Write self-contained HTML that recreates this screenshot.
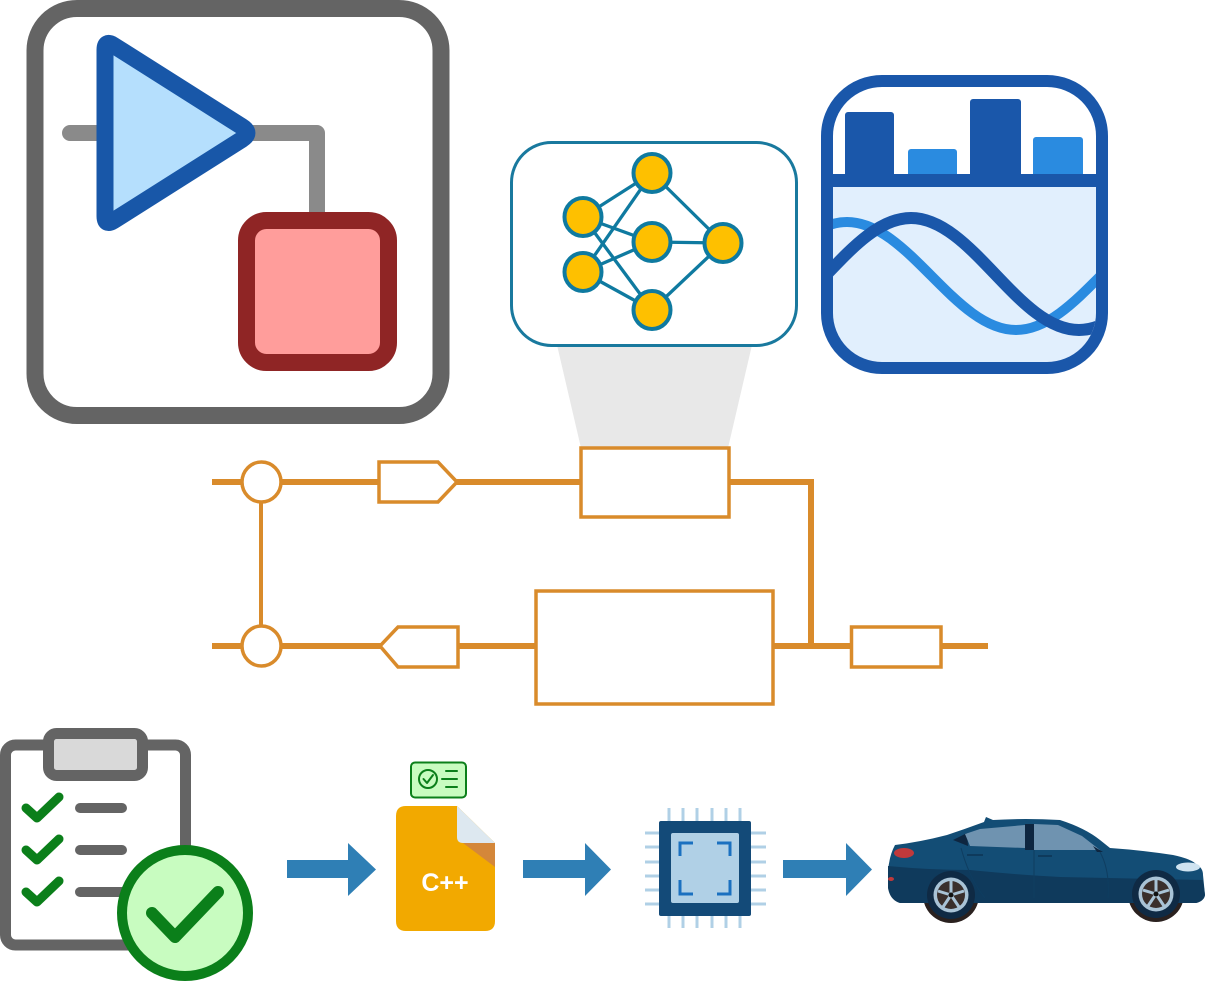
<!DOCTYPE html>
<html>
<head>
<meta charset="utf-8">
<style>
  html,body{margin:0;padding:0;background:#fff;}
  svg{display:block;}
</style>
</head>
<body>
<svg width="1228" height="983" viewBox="0 0 1228 983" xmlns="http://www.w3.org/2000/svg">
  <defs>
    <clipPath id="chartClip">
      <rect x="833" y="87" width="263" height="275" rx="49"/>
    </clipPath>
  </defs>

  <!-- ===== Top-left model icon ===== -->
  <rect x="35" y="8.5" width="406" height="407" rx="42" fill="#fff" stroke="#646464" stroke-width="17"/>
  <polyline points="70,133 317,133 317,222" fill="none" stroke="#8a8a8a" stroke-width="16" stroke-linecap="round" stroke-linejoin="round"/>
  <path d="M105,50 Q105,40 113.5,45.3 L241.9,126.6 Q252,133 241.9,139.4 L113.5,220.7 Q105,226 105,216 Z" fill="#b5dffd" stroke="#1857a8" stroke-width="17" stroke-linejoin="round"/>
  <rect x="246.5" y="220.5" width="142" height="142" rx="20" fill="#ff9d9b" stroke="#8f2525" stroke-width="17"/>

  <!-- ===== Gray projection trapezoid ===== -->
  <polygon points="557,345 752,345 728,448 581,448" fill="#e8e8e8"/>

  <!-- ===== Neural network box ===== -->
  <rect x="511.5" y="142.5" width="285" height="203" rx="40" fill="#fff" stroke="#19799e" stroke-width="3"/>
  <g stroke="#0f7aa0" stroke-width="3.3">
    <line x1="583" y1="217" x2="652" y2="173"/>
    <line x1="583" y1="217" x2="652" y2="242"/>
    <line x1="583" y1="217" x2="652" y2="310"/>
    <line x1="583" y1="272" x2="652" y2="173"/>
    <line x1="583" y1="272" x2="652" y2="242"/>
    <line x1="583" y1="272" x2="652" y2="310"/>
    <line x1="652" y1="173" x2="723" y2="243"/>
    <line x1="652" y1="242" x2="723" y2="243"/>
    <line x1="652" y1="310" x2="723" y2="243"/>
  </g>
  <g fill="#fec000" stroke="#0f7aa0" stroke-width="4">
    <ellipse cx="652" cy="173" rx="18.5" ry="19"/>
    <ellipse cx="583" cy="217" rx="18.5" ry="19"/>
    <ellipse cx="652" cy="242" rx="18.5" ry="19"/>
    <ellipse cx="723" cy="243" rx="18.5" ry="19"/>
    <ellipse cx="583" cy="272" rx="18.5" ry="19"/>
    <ellipse cx="652" cy="310" rx="18.5" ry="19"/>
  </g>

  <!-- ===== Chart / wave box ===== -->
  <rect x="827" y="81" width="275" height="287" rx="55" fill="#fff"/>
  <g clip-path="url(#chartClip)">
    <rect x="833" y="186" width="263" height="180" fill="#e1effd"/>
    <path d="M678,330 C739.5,330 785.5,222 847,222 C908.5,222 954.5,330 1016,330 C1077.5,330 1123.5,222 1185,222" fill="none" stroke="#2a8be0" stroke-width="10"/>
    <path d="M743,330 C804.2,330 849.8,218 911,218 C972.2,218 1017.8,330 1079,330 C1140.2,330 1185.8,218 1247,218" fill="none" stroke="#1a57aa" stroke-width="12"/>
  </g>
  <rect x="845" y="112" width="49" height="70" rx="3" fill="#1a57aa"/>
  <rect x="908" y="149" width="49" height="33" rx="3" fill="#2a8be0"/>
  <rect x="970" y="99" width="51" height="83" rx="3" fill="#1a57aa"/>
  <rect x="1033" y="137" width="50" height="45" rx="3" fill="#2a8be0"/>
  <line x1="821" y1="180.5" x2="1108" y2="180.5" stroke="#1a57aa" stroke-width="13"/>
  <rect x="827" y="81" width="275" height="287" rx="55" fill="none" stroke="#1a57aa" stroke-width="12"/>

  <!-- ===== Orange circuit ===== -->
  <g fill="none" stroke="#d98b2b">
    <g stroke-width="6">
      <line x1="212" y1="482" x2="242" y2="482"/>
      <line x1="281" y1="482" x2="379" y2="482"/>
      <line x1="456" y1="482" x2="581" y2="482"/>
      <polyline points="729,482 811,482 811,647"/>
      <line x1="212" y1="646" x2="242" y2="646"/>
      <line x1="281" y1="646" x2="381" y2="646"/>
      <line x1="458" y1="646" x2="536" y2="646"/>
      <line x1="773" y1="646" x2="851" y2="646"/>
      <line x1="941" y1="646" x2="988" y2="646"/>
    </g>
    <line x1="261" y1="501" x2="261" y2="627" stroke-width="4"/>
    <g stroke-width="3.5" fill="#fff">
      <ellipse cx="261.5" cy="482" rx="19.5" ry="20"/>
      <ellipse cx="261.5" cy="646" rx="19.5" ry="20"/>
      <polygon points="379,462 438,462 457,482 438,502 379,502"/>
      <rect x="581" y="448" width="148" height="69"/>
      <polygon points="380,646 398,627 458,627 458,667 398,667"/>
      <rect x="536" y="591" width="237" height="113"/>
      <rect x="851.5" y="627" width="89.5" height="40"/>
    </g>
  </g>

  <!-- ===== Clipboard ===== -->
  <rect x="5.5" y="745" width="180" height="200" rx="10" fill="#fff" stroke="#646464" stroke-width="11"/>
  <rect x="48.5" y="733.5" width="94" height="42" rx="8" fill="#d9d9d9" stroke="#646464" stroke-width="11"/>
  <g fill="none" stroke="#0b7f1a" stroke-width="9" stroke-linecap="round" stroke-linejoin="round">
    <polyline points="26,808 37,818 59,797"/>
    <polyline points="26,850 37,860 59,839"/>
    <polyline points="26,892 37,902 59,881"/>
  </g>
  <g stroke="#646464" stroke-width="10" stroke-linecap="round">
    <line x1="80" y1="808" x2="122" y2="808"/>
    <line x1="80" y1="850" x2="122" y2="850"/>
    <line x1="80" y1="892" x2="122" y2="892"/>
  </g>
  <circle cx="185" cy="913" r="63" fill="#c8fcc0" stroke="#0b7f1a" stroke-width="10"/>
  <polyline points="152,913 175,937 218,892" fill="none" stroke="#0b7f1a" stroke-width="12" stroke-linecap="round" stroke-linejoin="round"/>

  <!-- ===== Arrows ===== -->
  <g fill="#2f7fb5">
    <polygon points="287,860 348,860 348,843 376,869.5 348,896 348,878 287,878"/>
    <polygon points="523,860 585,860 585,843 611,869.5 585,896 585,878 523,878"/>
    <polygon points="783,860 846,860 846,843 872,869.5 846,896 846,878 783,878"/>
  </g>

  <!-- ===== C++ file ===== -->
  <rect x="411" y="762.5" width="55" height="35" rx="4" fill="#c8fcc0" stroke="#0b7f1a" stroke-width="2"/>
  <circle cx="428" cy="779" r="9" fill="none" stroke="#0b7f1a" stroke-width="2"/>
  <polyline points="423.5,779 427,783 433,775" fill="none" stroke="#0b7f1a" stroke-width="2" stroke-linecap="round" stroke-linejoin="round"/>
  <g stroke="#0b7f1a" stroke-width="2" stroke-linecap="round">
    <line x1="446" y1="771" x2="457" y2="771"/>
    <line x1="442" y1="779" x2="457" y2="779"/>
    <line x1="446" y1="787" x2="457" y2="787"/>
  </g>
  <path d="M406,806 L457,806 L495,843 L495,921 Q495,931 485,931 L406,931 Q396,931 396,921 L396,816 Q396,806 406,806 Z" fill="#f2a900"/>
  <path d="M457,806 L495,843 L463,843 Q457,843 457,837 Z" fill="#dde8f0"/>
  <polygon points="463,843 495,843 495,867" fill="#d4873a"/>
  <text x="445" y="891" text-anchor="middle" font-family="'Liberation Sans', sans-serif" font-weight="bold" font-size="25" fill="#fff">C++</text>

  <!-- ===== Chip ===== -->
  <g stroke="#b0d0e6" stroke-width="3">
    <line x1="669" y1="808" x2="669" y2="928"/>
    <line x1="683" y1="808" x2="683" y2="928"/>
    <line x1="697" y1="808" x2="697" y2="928"/>
    <line x1="712" y1="808" x2="712" y2="928"/>
    <line x1="726" y1="808" x2="726" y2="928"/>
    <line x1="740" y1="808" x2="740" y2="928"/>
    <line x1="645" y1="833" x2="766" y2="833"/>
    <line x1="645" y1="847" x2="766" y2="847"/>
    <line x1="645" y1="862" x2="766" y2="862"/>
    <line x1="645" y1="876" x2="766" y2="876"/>
    <line x1="645" y1="890" x2="766" y2="890"/>
    <line x1="645" y1="904" x2="766" y2="904"/>
  </g>
  <rect x="659" y="821" width="92" height="95" rx="2" fill="#134a78"/>
  <rect x="671" y="833" width="68" height="70" rx="2" fill="#b0d0e6"/>
  <g fill="none" stroke="#1a70c0" stroke-width="3">
    <polyline points="680,856 680,843 693,843"/>
    <polyline points="717,843 730,843 730,856"/>
    <polyline points="680,880 680,894 693,894"/>
    <polyline points="717,894 730,894 730,880"/>
  </g>

  <!-- ===== Car ===== -->
  <g>
    <circle cx="951" cy="895" r="28" fill="#2a211f"/>
    <circle cx="1156" cy="894" r="28" fill="#2a211f"/>
    <!-- upper body -->
    <path d="M895,900 Q888,890 888,872 Q889,856 895,845 Q920,842 947,835 Q965,829 984,822 L986,817 L993,820 Q1025,818 1060,820 Q1085,828 1100,840 L1110,848 Q1140,850 1173,855 Q1192,859 1197,865 Q1203,868 1203,875 L1205,895 Q1204,901 1196,903 L900,903 Z" fill="#134d75"/>
    <!-- lower darker band -->
    <path d="M888,866 Q930,870 970,870 Q1020,875 1060,877 L1203,880 L1205,895 Q1204,901 1196,903 L900,903 Q890,900 888,888 Z" fill="#0f3a5c"/>
    <!-- windows -->
    <polygon points="953,840 967,833 968,846" fill="#0e2640"/>
    <polygon points="965,834 980,829 1025,825 1025,848 970,846" fill="#6f93b0"/>
    <rect x="1025" y="824" width="9" height="26" fill="#0e2640"/>
    <polygon points="1034,824 1058,825 1082,836 1100,850 1034,850" fill="#6f93b0"/>
    <polygon points="1093,846 1103,852 1097,852" fill="#0e2640"/>
    <!-- door lines -->
    <path d="M961,848 Q970,880 985,898 M1034,850 L1034,898 M1100,852 Q1110,870 1108,898" fill="none" stroke="#0f3d60" stroke-width="1"/>
    <path d="M967,855 L983,855 M1038,856 L1052,856" stroke="#0e3a5c" stroke-width="2"/>
    <!-- lights -->
    <ellipse cx="904" cy="853" rx="10" ry="5" fill="#c0393b"/>
    <ellipse cx="891" cy="879" rx="3" ry="2" fill="#c0393b"/>
    <ellipse cx="1188" cy="867" rx="12" ry="4.5" fill="#cfe3f0"/>
    <!-- wheels -->
    <g>
      <circle cx="951" cy="895" r="24" fill="#0f2a44"/>
      <circle cx="951" cy="895" r="17.5" fill="#a9c3d6"/>
      <circle cx="951" cy="895" r="14" fill="#3a2f2c"/>
      <g stroke="#a9c3d6" stroke-width="3">
        <line x1="951" y1="895" x2="951" y2="881"/>
        <line x1="951" y1="895" x2="964" y2="891"/>
        <line x1="951" y1="895" x2="959" y2="907"/>
        <line x1="951" y1="895" x2="943" y2="907"/>
        <line x1="951" y1="895" x2="938" y2="891"/>
      </g>
      <circle cx="951" cy="895" r="2.5" fill="#111"/>
    </g>
    <g>
      <circle cx="1156" cy="894" r="24" fill="#0f2a44"/>
      <circle cx="1156" cy="894" r="17.5" fill="#a9c3d6"/>
      <circle cx="1156" cy="894" r="14" fill="#3a2f2c"/>
      <g stroke="#a9c3d6" stroke-width="3">
        <line x1="1156" y1="894" x2="1156" y2="880"/>
        <line x1="1156" y1="894" x2="1169" y2="890"/>
        <line x1="1156" y1="894" x2="1164" y2="906"/>
        <line x1="1156" y1="894" x2="1148" y2="906"/>
        <line x1="1156" y1="894" x2="1143" y2="890"/>
      </g>
      <circle cx="1156" cy="894" r="2.5" fill="#111"/>
    </g>
  </g>
</svg>
</body>
</html>
